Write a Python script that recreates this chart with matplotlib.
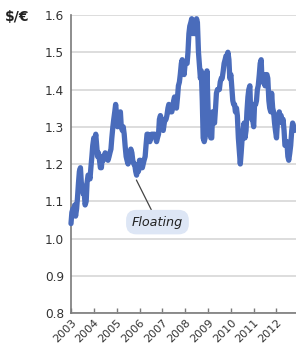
import matplotlib
matplotlib.use("Agg")
import matplotlib.pyplot as plt
import pandas as pd

# Semi-monthly $/€ exchange rate readings (1st and 15th of each month)
rate_2003 = [1.04, 1.07, 1.08, 1.07, 1.09, 1.06, 1.08, 1.11, 1.15, 1.18, 1.19, 1.15,
             1.14, 1.12, 1.12, 1.09, 1.10, 1.15, 1.17, 1.17, 1.16, 1.19, 1.22, 1.25]
rate_2004 = [1.27, 1.26, 1.28, 1.25, 1.22, 1.23, 1.21, 1.19, 1.19, 1.22, 1.21, 1.22,
             1.23, 1.22, 1.22, 1.21, 1.22, 1.23, 1.24, 1.27, 1.30, 1.32, 1.34, 1.36]
rate_2005 = [1.33, 1.30, 1.31, 1.32, 1.34, 1.30, 1.29, 1.30, 1.28, 1.25, 1.22, 1.21,
             1.20, 1.21, 1.23, 1.24, 1.23, 1.21, 1.20, 1.20, 1.18, 1.17, 1.19, 1.18]
rate_2006 = [1.21, 1.21, 1.19, 1.19, 1.20, 1.21, 1.22, 1.25, 1.28, 1.28, 1.27, 1.26,
             1.27, 1.28, 1.28, 1.28, 1.28, 1.27, 1.26, 1.27, 1.28, 1.32, 1.33, 1.32]
rate_2007 = [1.30, 1.29, 1.31, 1.32, 1.32, 1.33, 1.35, 1.36, 1.35, 1.34, 1.34, 1.35,
             1.37, 1.38, 1.36, 1.35, 1.38, 1.41, 1.42, 1.44, 1.47, 1.48, 1.46, 1.44]
rate_2008 = [1.47, 1.47, 1.47, 1.50, 1.55, 1.57, 1.58, 1.59, 1.55, 1.56, 1.55, 1.57,
             1.59, 1.58, 1.50, 1.47, 1.43, 1.45, 1.37, 1.27, 1.26, 1.27, 1.38, 1.45]
rate_2009 = [1.35, 1.30, 1.28, 1.27, 1.27, 1.34, 1.32, 1.31, 1.35, 1.39, 1.40, 1.40,
             1.40, 1.42, 1.43, 1.43, 1.45, 1.47, 1.48, 1.49, 1.49, 1.50, 1.48, 1.43]
rate_2010 = [1.44, 1.41, 1.37, 1.36, 1.36, 1.34, 1.35, 1.33, 1.27, 1.24, 1.20, 1.23,
             1.27, 1.29, 1.31, 1.27, 1.29, 1.34, 1.38, 1.40, 1.41, 1.33, 1.32, 1.32]
rate_2011 = [1.30, 1.36, 1.36, 1.37, 1.40, 1.41, 1.44, 1.47, 1.48, 1.42, 1.44, 1.44,
             1.41, 1.44, 1.44, 1.43, 1.37, 1.35, 1.34, 1.39, 1.35, 1.34, 1.31, 1.29]
rate_2012 = [1.27, 1.31, 1.32, 1.34, 1.32, 1.33, 1.31, 1.32, 1.29, 1.25,
             1.25, 1.26, 1.22, 1.21, 1.23, 1.25, 1.29, 1.31, 1.30, 1.29]

rates = (rate_2003 + rate_2004 + rate_2005 + rate_2006 + rate_2007 +
         rate_2008 + rate_2009 + rate_2010 + rate_2011 + rate_2012)
dates = pd.date_range("2003-01-01", periods=len(rates), freq="SMS")

year_ticks = list(range(2003, 2013))
y_ticks = [0.8, 0.9, 1.0, 1.1, 1.2, 1.3, 1.4, 1.5, 1.6]

fig = plt.figure(figsize=(2.96, 3.47), dpi=100)
ax = fig.add_axes([71 / 296, 34 / 347, 1 - 71 / 296, 298 / 347])

ax.plot(dates, rates, color="#4a6cbb", linewidth=3.8, solid_joinstyle="round",
        solid_capstyle="round", clip_on=False, zorder=3)

ax.set_ylim(0.8, 1.6)
ax.set_xlim(pd.Timestamp("2003-01-01"), pd.Timestamp("2012-11-08"))

ax.set_yticks(y_ticks)
ax.set_yticklabels([f"{v:.1f}" for v in y_ticks])
ax.set_xticks([pd.Timestamp(f"{y}-01-01") for y in year_ticks])
ax.set_xticklabels([str(y) for y in year_ticks], rotation=45, ha="right",
                   va="top", rotation_mode="anchor")

ax.grid(axis="y", color="#dadada", linewidth=1.3, zorder=0)
ax.set_axisbelow(True)
for s in ["top", "right"]:
    ax.spines[s].set_visible(False)
for s in ["left", "bottom"]:
    ax.spines[s].set_color("#7a7a7a")
    ax.spines[s].set_linewidth(1.2)

ax.tick_params(axis="y", length=0, pad=5, labelsize=8.7, labelcolor="#333333")
ax.tick_params(axis="x", direction="in", length=3.5, width=1, color="#7a7a7a",
               pad=3.0, labelsize=8.0, labelcolor="#333333")

fig.text(5 / 296, 1 - 17 / 347, "$/€", fontsize=10, fontweight="bold",
         color="#222222", ha="left", va="center")

ax.annotate("Floating",
            xy=(pd.Timestamp("2005-11-12"), 1.157),
            xytext=(pd.Timestamp("2006-10-15"), 1.044),
            fontsize=9.2, style="italic", color="#222222",
            ha="center", va="center",
            bbox=dict(boxstyle="round,pad=0.45,rounding_size=0.8",
                      fc="#dde6f5", ec="none"),
            arrowprops=dict(arrowstyle="-", color="#444444", lw=0.9,
                            shrinkA=0, shrinkB=0))

fig.savefig("out.png", dpi=100)
